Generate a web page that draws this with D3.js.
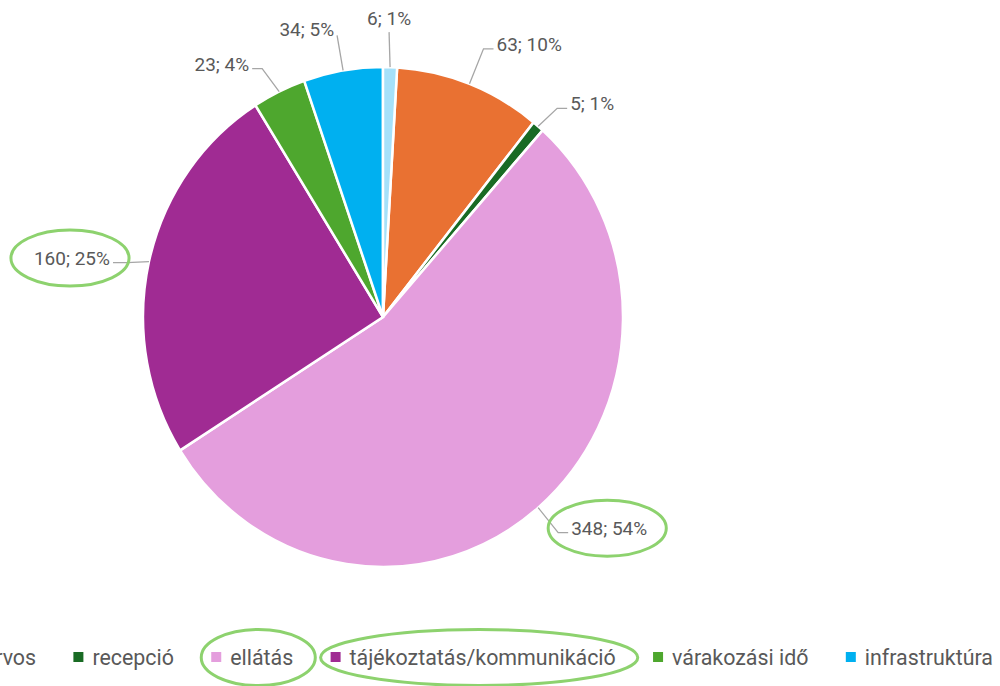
<!DOCTYPE html>
<html>
<head>
<meta charset="utf-8">
<script src="https://cdn.jsdelivr.net/npm/d3@7"></script>
<style>
  body { margin: 0; background: #fff; }
  svg { display: block; font-family: Roboto, "Noto Sans", sans-serif; }
</style>
</head>
<body>
<script>
// adatok
var categories = ["orvos", "recepció", "ellátás", "tájékoztatás/kommunikáció", "várakozási idő", "infrastruktúra", "egyéb"];
var values = [63, 5, 348, 160, 23, 34, 6];
var colors = ["#E97132", "#196B24", "#E49EDD", "#A02B93", "#4EA72E", "#00B0F0", "#A6E1FA"];
var highlighted = ["ellátás", "tájékoztatás/kommunikáció"];

// címkék helye (a szelet szélétől mért eltolás, vízszintes szakasz)
var leader = [
  { dx: 14, dy: -35, h: 10, side: "right" },
  { dx: 19, dy: -18, h: 10, side: "right" },
  { dx: 20, dy: 25, h: 10, side: "right" },
  { dx: -22, dy: 1, h: -14, side: "left" },
  { dx: -17, dy: -23, h: -10, side: "left" },
  { dx: -6, dy: -35, h: 0, side: "topleft" },
  { dx: -1, dy: -35, h: 0, side: "top" }
];

var width = 1000, height = 686;
var cx = 383, cy = 317, r = 240, ky = 250 / 240;
var total = d3.sum(values);
var pct = d3.format(".0%");
var green = "#8DD26E", gray = "#595959";

var data = categories.map(function(c, i) { return { name: c, value: values[i], color: colors[i], lay: leader[i] }; });

var svg = d3.select("body").append("svg")
  .attr("width", width)
  .attr("height", height);

var start = 2 * Math.PI * values[values.length - 1] / total;
var pie = d3.pie().value(function(d) { return d.value; }).sort(null)
  .startAngle(start).endAngle(start + 2 * Math.PI);
var arcs = pie(data);

var arc = d3.arc().innerRadius(0).outerRadius(r);
var edge = d3.arc().innerRadius(r).outerRadius(r);

var pieG = svg.append("g")
  .attr("transform", "translate(" + cx + "," + cy + ") scale(1," + ky + ")");

pieG.selectAll("path").data(arcs).enter().append("path")
  .attr("d", arc)
  .attr("fill", function(d) { return d.data.color; })
  .attr("stroke", "#fff")
  .attr("stroke-width", 2.5);

// címkék és vezetővonalak
var labelG = svg.append("g");
var labelNodes = {};
arcs.forEach(function(d) {
  var p = edge.centroid(d);
  var x0 = cx + p[0], y0 = cy + p[1] * ky;
  var L = d.data.lay;
  var x1 = x0 + L.dx, y1 = y0 + L.dy;
  var x2 = x1 + L.h, y2 = y1;
  labelG.append("polyline")
    .attr("points", [[x0, y0], [x1, y1], [x2, y2]].map(function(q) { return q.join(","); }).join(" "))
    .attr("fill", "none")
    .attr("stroke", "#A6A6A6")
    .attr("stroke-width", 1.3);
  var t = labelG.append("text")
    .attr("fill", gray)
    .attr("font-size", 19)
    .text(d.data.value + "; " + pct(d.data.value / total));
  if (L.side === "right") t.attr("x", x2 + 3).attr("y", y2 + 2).attr("text-anchor", "start");
  else if (L.side === "left") t.attr("x", x2 - 3).attr("y", y2 + 2).attr("text-anchor", "end");
  else if (L.side === "topleft") t.attr("x", x2 - 3).attr("y", y2 + 1).attr("text-anchor", "end");
  else t.attr("x", x2).attr("y", y2 - 7).attr("text-anchor", "middle");
  labelNodes[d.data.name] = t.node();
});

// jelmagyarázat
var legendG = svg.append("g");
var lx = -36, ly = 657, legendNodes = {};
data.forEach(function(d) {
  var g = legendG.append("g");
  g.append("rect")
    .attr("x", lx).attr("y", ly - 5)
    .attr("width", 10).attr("height", 10)
    .attr("fill", d.color);
  var t = g.append("text")
    .attr("x", lx + 19).attr("y", ly + 8)
    .attr("fill", gray)
    .attr("font-size", 21.4)
    .text(d.name);
  legendNodes[d.name] = g.node();
  lx += 19 + t.node().getComputedTextLength() + 37.3;
});

// kiemelő ellipszisek
function ring(node, padX, shiftX) {
  var b = node.getBBox();
  svg.append("ellipse")
    .attr("cx", b.x + b.width / 2 + shiftX)
    .attr("cy", b.y + b.height / 2)
    .attr("rx", b.width / 2 + padX)
    .attr("ry", 28)
    .attr("fill", "none")
    .attr("stroke", green)
    .attr("stroke-width", 3);
}
highlighted.forEach(function(name) {
  ring(labelNodes[name], 21, -2);
  ring(legendNodes[name], 16, 6);
});
</script>
</body>
</html>
